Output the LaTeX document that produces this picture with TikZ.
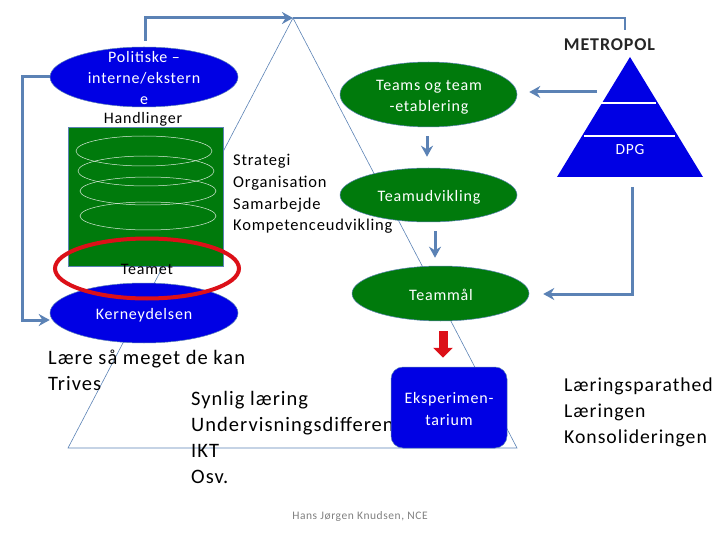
\documentclass[tikz,border=0pt]{standalone}
\usepackage{fontspec}
\setmainfont[LetterSpace=5]{Carlito}
\usetikzlibrary{arrows.meta,calc,shapes.geometric}
\definecolor{pilblaa}{HTML}{5B82B5}
\definecolor{moerkblaa}{HTML}{0000E4}
\definecolor{moerkgroen}{HTML}{007A0C}
\definecolor{roed}{HTML}{DC1018}
\tikzset{
linie/.style={draw=pilblaa,line width=.6pt},
pil/.style={draw=pilblaa,line width=3pt,-{Stealth[length=11pt,width=12pt]}},
blaaell/.style={ellipse,draw=pilblaa,line width=.5pt,fill=moerkblaa,text=white,minimum width=188pt,minimum height=60pt,inner sep=0pt,align=center,font=\fontsize{16}{21}\selectfont},
groenell/.style={ellipse,draw=pilblaa,line width=.5pt,fill=moerkgroen,text=white,minimum width=177pt,inner sep=0pt,align=center,font=\fontsize{16}{21}\selectfont},
hvidell/.style={ellipse,draw=white!85!moerkgroen,line width=.5pt,minimum width=136pt,inner sep=0pt},
tekst/.style={anchor=west,align=left,inner sep=0pt},
indhold/.style={text=white,align=center,inner sep=0pt,font=\fontsize{16}{21}\selectfont}
}
\begin{document}
\begin{tikzpicture}[x=1pt,y=-1pt]
\useasboundingbox(0,0)rectangle(720,540);
\coordinate(top)at(293,18);\coordinate(vb)at(68,448);\coordinate(hb)at(517,448);
\draw[linie](top)--(hb)--(vb)--cycle;
\node[fill=moerkgroen,draw=pilblaa,line width=.5pt,minimum width=155pt,minimum height=139pt,inner sep=0pt](boks)at(145.5,196.5){};
\node[hvidell,minimum height=30pt](h1)at(144,151){};
\node[hvidell,minimum height=30pt](h2)at(146,171){};
\node[hvidell,minimum height=28pt](h3)at(148,191){};
\node[hvidell,minimum height=28pt](h4)at(148,216){};
\node[blaaell](pol)at(144,77){};
\node[indhold](polt)at(144,78.5){Politiske --\\interne/ekstern\\e};
\node[font=\fontsize{16}{18}\selectfont,inner sep=0pt](handl)at(143,119){Handlinger};
\node[font=\fontsize{16}{18}\selectfont,inner sep=0pt](teamet)at(147,269){Teamet};
\node[blaaell](ker)at(144,313){};
\draw[draw=roed,line width=4pt](147,268.5)ellipse[x radius=92,y radius=30];
\node[indhold](kert)at(144,315.5){Kerneydelsen};
\node[groenell,minimum height=65pt](team)at(428.5,94.5){};
\node[indhold](teamt)at(429,97){Teams og team\\-etablering};
\node[tekst,font=\fontsize{16.5}{21.6}\selectfont](org)at(233,194){Strategi\\Organisation\\Samarbejde\\Kompetenceudvikling};
\node[groenell,minimum height=54pt](udv)at(428.5,195){};
\node[indhold](udvt)at(429,197){Teamudvikling};
\node[groenell,minimum height=55pt](maal)at(440.5,293.5){};
\node[indhold](maalt)at(441,295){Teammål};
\node[tekst,font=\fontsize{20.5}{26}\selectfont](laere)at(48,370){Lære så meget de kan\\Trives};
\node[tekst,font=\fontsize{20.5}{26.3}\selectfont](syn)at(191,437.5){Synlig læring\\Undervisningsdifferent\\IKT\\Osv.};
\node[tekst,font=\fontsize{19.7}{26}\selectfont](laer)at(564,412.5){Læringsparathed\\Læringen\\Konsolideringen};
\node[fill=moerkblaa,draw=pilblaa,line width=.5pt,rounded corners=12pt,minimum width=116pt,minimum height=81pt,inner sep=0pt](eks)at(449,407.5){};
\node[indhold,font=\fontsize{16}{22}\selectfont](ekst)at(449,409.5){Eksperimen-\\tarium};
\draw[draw=none,fill=moerkblaa](630,57)--(703,177)--(557,177)--cycle;
\coordinate(dp)at(630,177);\coordinate(dv)at(597,92);\coordinate(logoend)at(625,30);
\draw[white,line width=2.5pt](601,103)--(656,103);
\draw[white,line width=2.5pt](584,136)--(675,136);
\node[text=white,font=\fontsize{15.5}{18}\selectfont,inner sep=0pt](dpg)at(630,150){DPG};
\node[font=\fontsize{18}{22}\bfseries\selectfont,text=black!85,inner sep=0pt](logo)at(609.5,45){METROPOL};
\node[text=black!50,font=\fontsize{11.5}{14}\selectfont,inner sep=0pt](navn)at(360,516){Hans Jørgen Knudsen, NCE};
\draw[pil]($(pol.north)+(1,-6)$)|-(top);
\draw[draw=pilblaa,line width=2.5pt](top)-|(logoend);
\draw[pil](pol.west)-|(22,200)|-($(ker.west)+(0,7)$);
\draw[pil](dv)--($(team.east)+(12,-2.5)$);
\draw[pil]($(team.south)+(-1.5,9)$)--($(udv.north)+(-1.5,-11)$);
\draw[pil]($(udv.south)+(6.5,9)$)--($(maal.north)+(-5.5,-8)$);
\draw[pil]($(dp)+(2,10)$)|-($(maal.east)+(14,.5)$);
\draw[draw=roed,fill=roed,line width=9pt,-{Triangle[length=10pt,width=19pt]}]($(maal.south)+(2.5,10)$)--($(eks.north)+(-6,-9)$);
\end{tikzpicture}
\end{document}
